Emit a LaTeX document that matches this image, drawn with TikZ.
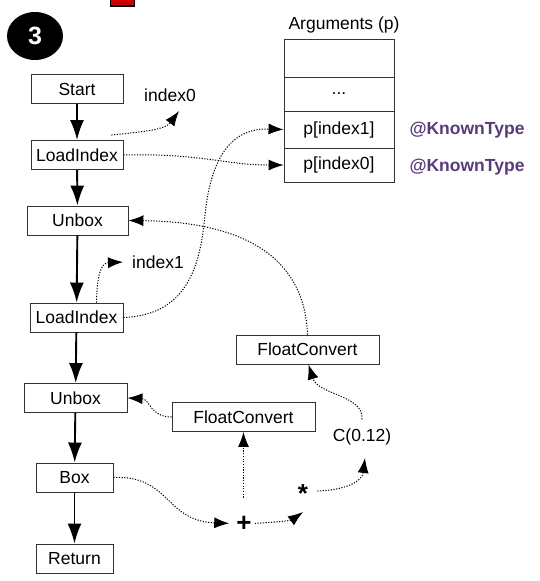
\documentclass[tikz,border=0pt]{standalone}
\usepackage{fontspec}
\setmainfont{Liberation Sans}
\usetikzlibrary{arrows.meta,shapes.geometric}
\definecolor{knowntype}{RGB}{88,60,122}
\definecolor{tabred}{RGB}{204,0,0}
\begin{document}
\begin{tikzpicture}[x=1pt,y=-1pt,
  every node/.style={font=\fontsize{17.5}{20}\selectfont},
  op/.style={draw=black!80, line width=0.9pt, minimum height=29pt, inner sep=0pt},
  cell/.style={draw=black!80, line width=0.9pt, minimum width=110pt, inner sep=0pt},
  flow/.style={line width=1.9pt, -{Latex[length=20pt,width=14pt]}},
  dep/.style={line width=1pt, dash pattern=on 1.2pt off 1.5pt, -{Latex[length=15pt,width=11pt]}},
  sym/.style={font=\fontsize{26}{28}\selectfont\bfseries, inner sep=3pt},
  ]
\useasboundingbox (0,0) rectangle (539,581);

% badge and tab
\node (tab) [draw=black, line width=1.5pt, fill=tabred, minimum width=24pt, minimum height=12pt, inner sep=0pt] at (122.5,0) {};
\node (badge) [ellipse, fill=black, minimum width=56pt, minimum height=48pt, text=white,
  font=\fontsize{25}{28}\selectfont\bfseries] at (35,36) {3};

% main control flow
\node (start) [op, minimum width=92pt]  at (77,89)      {Start};
\node (li1)   [op, minimum width=92pt]  at (77,155)     {LoadIndex};
\node (ub1)   [op, minimum width=101pt] at (77.5,220.5) {Unbox};
\node (li2)   [op, minimum width=93pt]  at (76.5,317.5) {LoadIndex};
\node (ub2)   [op, minimum width=103pt] at (75.5,398)   {Unbox};
\node (bx)    [op, minimum width=77pt]  at (74.5,477.5) {Box};
\node (ret)   [op, minimum width=77pt]  at (74.5,558.5) {Return};

\draw[flow] (start) -- (li1);
\draw[flow] (li1) -- (ub1);
\draw[flow] (ub1) -- (li2);
\draw[flow] (li2) -- (ub2);
\draw[flow] (ub2) -- (bx);
\draw[flow] (bx) -- (ret);

% values
\node (i0) at (170,95)  {index0};
\node (i1) at (158,262) {index1};
\node (fc1) [op, minimum width=143pt] at (307.5,349.5) {FloatConvert};
\node (fc2) [op, minimum width=143pt] at (243.5,417)   {FloatConvert};
\node (cc) at (362,437) {C(0.12)};
\node (pl)   [sym, anchor=base] at (244,531) {+};
\node (star) [sym, anchor=base] at (303,502) {*};

% argument array
\node (argt) at (344,25) {Arguments (p)};
\node (r1) [cell, minimum height=38pt] at (339,58)    {};
\node (r2) [cell, minimum height=34pt] at (339,94)    {...};
\node (r3) [cell, minimum height=37pt] at (339,129.5) {p[index1]};
\node (r4) [cell, minimum height=34pt] at (339,165)   {p[index0]};
\node (kt1) [text=knowntype, font=\fontsize{17.5}{20}\selectfont\bfseries] at (467,130) {@KnownType};
\node (kt2) [text=knowntype, font=\fontsize{17.5}{20}\selectfont\bfseries] at (467,167) {@KnownType};

% free ends of the data arrows
\coordinate (i0tip) at (179,111);
\coordinate (i1tip) at (123,262);
\coordinate (sttip) at (303,512);
\coordinate (cctip) at (365,458);

% data dependencies
\draw[dep] ([xshift=-12pt,yshift=5pt]li1.north east) .. controls (140,132) and (165,130) .. (i0tip);
\draw[dep] (li1.east) .. controls (200,153) and (225,165) .. (r4.west);
\draw[dep] (li2.east) .. controls (185,315) and (200,270) .. (205,215)
                      .. controls (212,145) and (240,128) .. (r3.west);
\draw[dep] (fc1.north) .. controls (305,265) and (255,222) .. (ub1.east);
\draw[dep] ([xshift=20pt]li2.north) .. controls (97,278) and (100,263) .. (i1tip);
\draw[dep] ([yshift=6pt]cc.north) .. controls (364,395) and (318,395) .. ([xshift=1pt]fc1.south);
\draw[dep] (fc2.west) .. controls (150,417) and (150,399) .. (ub2.east);
\draw[dep] ([yshift=15pt]fc2.south |- pl.north) -- (fc2.south);
\draw[dep] (bx.east) .. controls (170,475) and (165,521) .. ([xshift=-4pt]pl.west);
\draw[dep] (pl.east) .. controls (280,522) and (292,520) .. (sttip);
\draw[dep] ([xshift=6pt,yshift=2pt]star.east) .. controls (345,490) and (362,482) .. (cctip);
\end{tikzpicture}
\end{document}
